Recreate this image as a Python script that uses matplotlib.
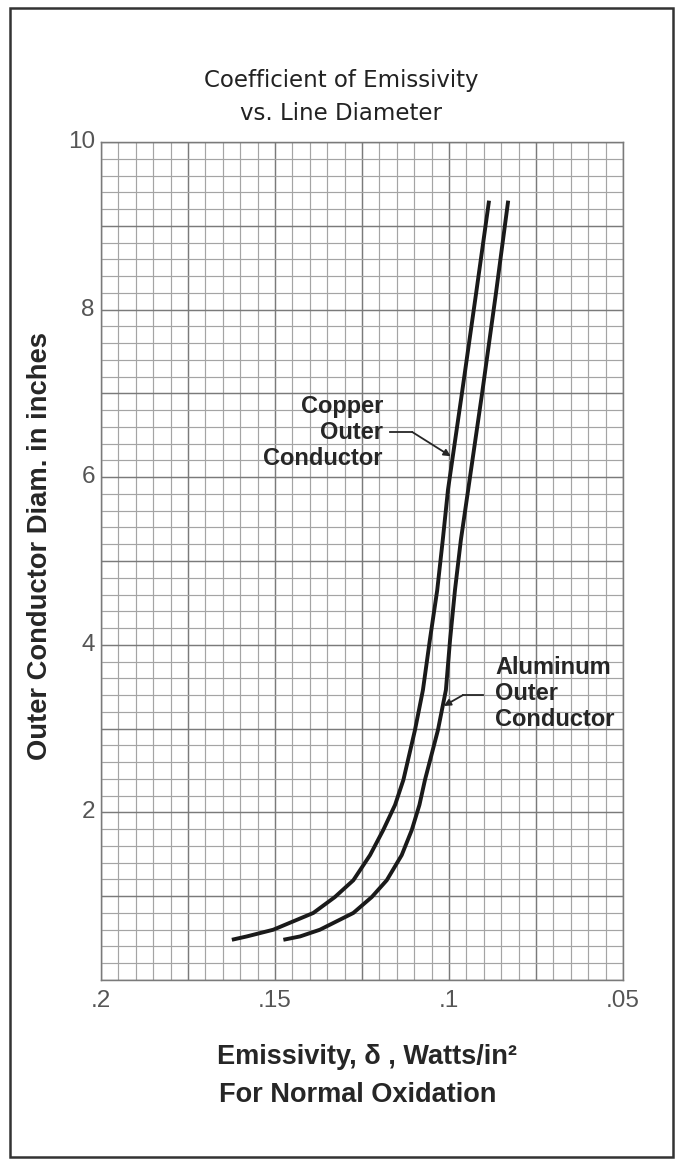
import numpy as np
import matplotlib
matplotlib.use('Agg')
from matplotlib import pyplot as plt
from matplotlib.patches import Rectangle
from matplotlib.ticker import MultipleLocator

# emissivity (W/in^2) vs outer conductor diameter (in)
copper_e = [.1624, .1581, .1505, .1390, .1328, .1275, .1227, .1189, .1155, .1131,
            .1098, .1075, .1055, .1034, .1018, .1003, .0963, .0922, .0885]
copper_d = [0.48, 0.52, 0.60, 0.80, 0.99, 1.19, 1.49, 1.79, 2.09, 2.39,
            2.98, 3.46, 4.06, 4.65, 5.25, 5.85, 7.00, 8.20, 9.30]
alum_e = [.1476, .1428, .1371, .1275, .1222, .1179, .1136, .1107, .1085, .1069,
          .1032, .1009, .0997, .0983, .0966, .0945, .0905, .0865, .0830]
alum_d = [0.48, 0.52, 0.60, 0.80, 0.99, 1.19, 1.49, 1.79, 2.09, 2.39,
          2.98, 3.46, 4.06, 4.65, 5.25, 5.85, 7.00, 8.20, 9.30]

xticks = [.2, .15, .1, .05]
xticklabels = ['.2', '.15', '.1', '.05']
yticks = [2, 4, 6, 8, 10]

fig = plt.figure(figsize=(6.83, 11.61), dpi=100)
ax = fig.add_axes([0.1479, 0.1559, 0.7643, 0.7218])

# graph paper
ax.xaxis.set_major_locator(MultipleLocator(0.025))
ax.xaxis.set_minor_locator(MultipleLocator(0.005))
ax.yaxis.set_major_locator(MultipleLocator(1))
ax.yaxis.set_minor_locator(MultipleLocator(0.2))
ax.grid(which='minor', color='#a4a4a4', lw=0.85)
ax.grid(which='major', color='#7a7a7a', lw=1.05)
ax.set_axisbelow(True)

ax.plot(copper_e, copper_d, color='#1a1a1a', lw=2.8, solid_capstyle='butt',
        solid_joinstyle='round')
ax.plot(alum_e, alum_d, color='#1a1a1a', lw=2.8, solid_capstyle='butt',
        solid_joinstyle='round')

ax.set_xlim(.2, .05)
ax.set_ylim(0, 10)

# tick labels drawn as text so the grid keeps its own spacing
ax.tick_params(which='both', length=0, labelbottom=False, labelleft=False)
for x, s in zip(xticks, xticklabels):
    ax.text(x, -0.12, s, ha='center', va='top', fontsize=17.5,
            family='Liberation Sans', color='#555555')
for y in yticks:
    ax.text(.2018, y, str(y), ha='right', va='center', fontsize=17.5,
            family='Liberation Sans', color='#555555')

for sp in ax.spines.values():
    sp.set_color('#7a7a7a')
    sp.set_linewidth(1.05)

# curve labels
lab = dict(fontsize=17, fontweight='bold', family='Liberation Sans', color='#262626')
ax.text(.1190, 6.53, 'Copper\nOuter\nConductor', ha='right', va='center',
        linespacing=1.17, **lab)
ax.plot([.1170, .1106], [6.54, 6.54], color='#262626', lw=1.3)
ax.annotate('', xy=(.0995, 6.25), xytext=(.1106, 6.54),
            arrowprops=dict(arrowstyle='-|>', color='#262626', lw=1.3,
                            mutation_scale=10, shrinkA=0, shrinkB=0))
ax.text(.0868, 3.42, 'Aluminum\nOuter\nConductor', ha='left', va='center',
        linespacing=1.17, **lab)
ax.plot([.0902, .0960], [3.40, 3.40], color='#262626', lw=1.3)
ax.annotate('', xy=(.1015, 3.27), xytext=(.0960, 3.40),
            arrowprops=dict(arrowstyle='-|>', color='#262626', lw=1.3,
                            mutation_scale=10, shrinkA=0, shrinkB=0))

# titles
tt = dict(fontsize=16.5, family='DejaVu Sans', color='#222222', ha='center', va='center')
fig.text(0.5, 1 - 80 / 1161, 'Coefficient of Emissivity', **tt)
fig.text(0.5, 1 - 113 / 1161, 'vs. Line Diameter', **tt)

fig.text(40 / 683, 1 - 546 / 1161, 'Outer Conductor Diam. in inches', rotation=90,
         ha='center', va='center', fontsize=19.7, fontweight='bold',
         family='Liberation Sans', color='#262626')
xl = dict(fontsize=19.5, fontweight='bold', family='Liberation Sans', color='#262626',
          ha='center', va='center')
fig.text(367 / 683, 1 - 1057 / 1161, 'Emissivity, δ , Watts/in²', **xl)
fig.text(358 / 683, 1 - 1095 / 1161, 'For Normal Oxidation', **xl)

# outer frame
fig.patches.append(Rectangle((10 / 683, 1 - 1157 / 1161), 663 / 683, 1149 / 1161,
                             transform=fig.transFigure, fill=False,
                             edgecolor='#333333', lw=1.8))

fig.savefig('out.png', dpi=100)
